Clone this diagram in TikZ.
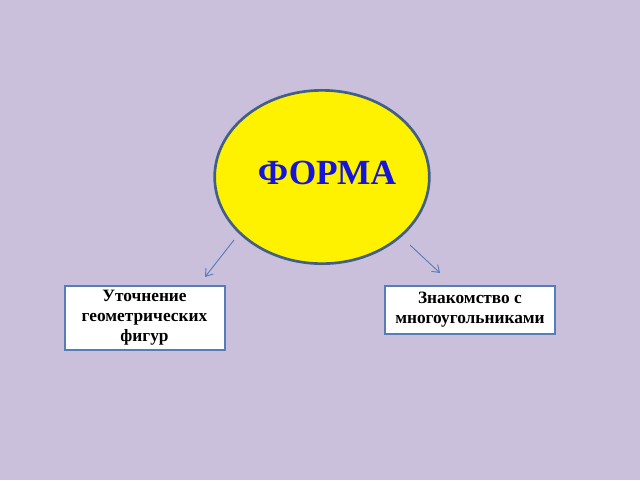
\documentclass[tikz,border=0pt]{standalone}
\usepackage{fontspec}
\setmainfont{Liberation Serif}
\usetikzlibrary{shapes.geometric,arrows.meta}
\definecolor{bgviolet}{RGB}{203,192,220}
\definecolor{ringblue}{RGB}{65,95,135}
\definecolor{boxblue}{RGB}{85,125,185}
\definecolor{titleblue}{RGB}{20,20,220}
\begin{document}
\begin{tikzpicture}[x=0.75pt,y=-0.75pt]
			\fill[bgviolet] (0,0) rectangle (640,480);
			\useasboundingbox (0,0) rectangle (640,480);
			
			\node (F) [ellipse,draw=ringblue,line width=2pt,fill=yellow,minimum width=161pt,minimum height=130pt,inner sep=0pt] at (322,177) {};
			\node (T) at (327,173) {\fontsize{26.5}{30}\selectfont\bfseries\color{titleblue}ФОРМА};
			
			\begin{scope}[every node/.style={draw=boxblue,line width=1.5pt,fill=white,align=center,inner sep=2pt,font=\fontsize{13}{15}\selectfont\bfseries}]
				\node (L) [minimum width=120pt,minimum height=48pt] at (144.5,318) {Уточнение\\геометрических\\фигур};
				\node (R) [minimum width=127pt,minimum height=36pt] at (470,309.5) {Знакомство с\\многоугольниками};
			\end{scope}
			
			\coordinate (La) at (234,240);
			\coordinate (Lb) at (205,277);
			\coordinate (Ra) at (410,245);
			\coordinate (Rb) at (440,273);
			\begin{scope}[every edge/.style={draw=boxblue,line width=0.7pt}]
				\path [-{Straight Barb[length=5pt,width=7pt]}] (La) edge (Lb);
				\path [-{Straight Barb[length=5pt,width=7pt]}] (Ra) edge (Rb);
			\end{scope}
		\end{tikzpicture}
\end{document}
